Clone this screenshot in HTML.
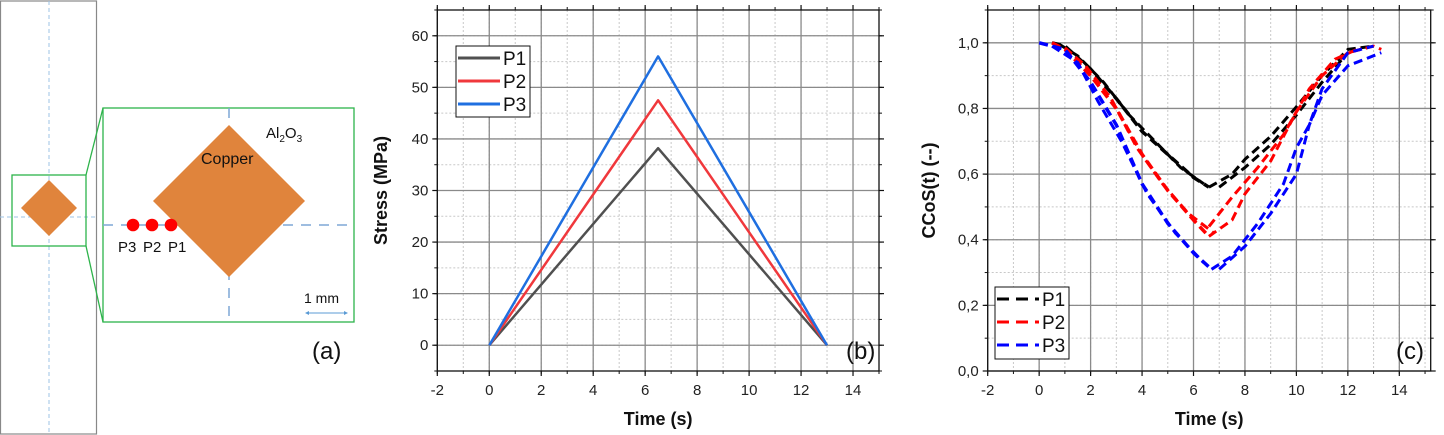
<!DOCTYPE html>
<html><head><meta charset="utf-8">
<style>
html,body{margin:0;padding:0;background:#fff;}
svg{display:block;font-family:"Liberation Sans",Arial,sans-serif;}
</style></head>
<body>
<svg id="s" width="1444" height="435" xmlns="http://www.w3.org/2000/svg">
<rect x="0.5" y="1" width="96" height="433" fill="none" stroke="#888" stroke-width="1.2"/>
<line x1="49" y1="1" x2="49" y2="434" stroke="#9dc3e6" stroke-width="1" stroke-dasharray="4,3"/>
<line x1="0" y1="217" x2="97" y2="217" stroke="#9dc3e6" stroke-width="1" stroke-dasharray="4,3"/>
<polygon points="49,180 77,208 49,236 21,208" fill="#e0843c"/>
<rect x="12" y="175" width="74" height="71" fill="none" stroke="#2db34a" stroke-width="1.3"/>
<line x1="86" y1="175" x2="103" y2="108" stroke="#2db34a" stroke-width="1.3"/>
<line x1="86" y1="246" x2="103" y2="322" stroke="#2db34a" stroke-width="1.3"/>
<rect x="103" y="108" width="251" height="214" fill="#fff" stroke="#2db34a" stroke-width="1.3"/>
<line x1="229" y1="108" x2="229" y2="322" stroke="#7fa7d6" stroke-width="1.5" stroke-dasharray="10,8"/>
<line x1="103" y1="225" x2="354" y2="225" stroke="#7fa7d6" stroke-width="1.5" stroke-dasharray="10,8"/>
<polygon points="229,125 305,201 229,277 153,201" fill="#e0843c"/>
<circle cx="133" cy="225" r="6.3" fill="#f00"/>
<circle cx="152" cy="225" r="6.3" fill="#f00"/>
<circle cx="171" cy="225" r="6.3" fill="#f00"/>
<text x="118" y="252" font-size="15" fill="#111">P3</text>
<text x="143" y="252" font-size="15" fill="#111">P2</text>
<text x="168" y="252" font-size="15" fill="#111">P1</text>
<text x="201" y="164" font-size="16" fill="#111">Copper</text>
<text x="266" y="138" font-size="15" fill="#111">Al<tspan font-size="10" dy="4">2</tspan><tspan dy="-4">O</tspan><tspan font-size="10" dy="4">3</tspan></text>
<text x="304" y="303" font-size="14" fill="#111">1 mm</text>
<line x1="307" y1="313" x2="346" y2="313" stroke="#5b9bd5" stroke-width="1"/>
<polygon points="305,313 309,311 309,315" fill="#5b9bd5"/>
<polygon points="348,313 344,311 344,315" fill="#5b9bd5"/>
<text x="312" y="359" font-size="24" fill="#111">(a)</text>
<g id="b"></g><g id="c"></g>
</svg>
<script>
var NS="http://www.w3.org/2000/svg";
function el(p,t,a,txt){var e=document.createElementNS(NS,t);for(var k in a)e.setAttribute(k,a[k]);if(txt!==undefined)e.textContent=txt;p.appendChild(e);return e;}
function panel(g,o){
 var X=function(v){return o.x0+(v-o.xmin)*(o.x1-o.x0)/(o.xmax-o.xmin);};
 var Y=function(v){return o.y1-(v-o.ymin)*(o.y1-o.y0)/(o.ymax-o.ymin);};
 for(var v=o.xmin;v<=o.xmax+1e-9;v+=o.xminor){var px=X(v);el(g,'line',{x1:px,y1:o.y0,x2:px,y2:o.y1,stroke:'#c8c8c8','stroke-width':1,'stroke-dasharray':'2,2'});}
 for(var v=o.ymin;v<=o.ymax+1e-9;v+=o.yminor){var py=Y(v);el(g,'line',{x1:o.x0,y1:py,x2:o.x1,y2:py,stroke:'#c8c8c8','stroke-width':1,'stroke-dasharray':'2,2'});}
 o.xt.forEach(function(v){var px=X(v);el(g,'line',{x1:px,y1:o.y0,x2:px,y2:o.y1,stroke:'#8a8a8a','stroke-width':1.3});
  el(g,'line',{x1:px,y1:o.y1,x2:px,y2:o.y1+5,stroke:'#111','stroke-width':1.2});el(g,'line',{x1:px,y1:o.y0,x2:px,y2:o.y0-5,stroke:'#111','stroke-width':1.2});
  el(g,'text',{x:px,y:o.y1+24,'font-size':15,'text-anchor':'middle',fill:'#222'},String(v));});
 for(var v=o.xmin;v<=o.xmax+1e-9;v+=o.xminor){var px=X(v);el(g,'line',{x1:px,y1:o.y1,x2:px,y2:o.y1+3,stroke:'#111'});el(g,'line',{x1:px,y1:o.y0,x2:px,y2:o.y0-3,stroke:'#111'});}
 o.yt.forEach(function(v){var py=Y(v);el(g,'line',{x1:o.x0,y1:py,x2:o.x1,y2:py,stroke:'#8a8a8a','stroke-width':1.3});
  el(g,'line',{x1:o.x0-5,y1:py,x2:o.x0,y2:py,stroke:'#111','stroke-width':1.2});el(g,'line',{x1:o.x1,y1:py,x2:o.x1+5,y2:py,stroke:'#111','stroke-width':1.2});
  el(g,'text',{x:o.x0-9,y:py+5,'font-size':15,'text-anchor':'end',fill:'#222'},o.yf(v));});
 for(var v=o.ymin;v<=o.ymax+1e-9;v+=o.yminor){var py=Y(v);el(g,'line',{x1:o.x0-3,y1:py,x2:o.x0,y2:py,stroke:'#111'});el(g,'line',{x1:o.x1,y1:py,x2:o.x1+3,y2:py,stroke:'#111'});}
 el(g,'rect',{x:o.x0,y:o.y0,width:o.x1-o.x0,height:o.y1-o.y0,fill:'none',stroke:'#111','stroke-width':1.3});
 o.series.forEach(function(s){var pts=s.p.map(function(q){return X(q[0]).toFixed(1)+','+Y(q[1]).toFixed(1);}).join(' ');
  var a={points:pts,fill:'none',stroke:s.c,'stroke-width':s.w||2.5,'stroke-linejoin':'round'};if(s.d)a['stroke-dasharray']=s.d;el(g,'polyline',a);});
 var L=o.leg;el(g,'rect',{x:L.x,y:L.y,width:L.w,height:L.h,fill:'#fff',stroke:'#111','stroke-width':1});
 L.items.forEach(function(it,i){var yy=L.y+12+i*23;var a={x1:L.x+2,y1:yy,x2:L.x+44,y2:yy,stroke:it.c,'stroke-width':3};if(it.d)a['stroke-dasharray']=it.d;el(g,'line',a);
  el(g,'text',{x:L.x+47,y:yy+7,'font-size':19,fill:'#111'},it.t);});
 el(g,'text',{x:o.tag[0],y:o.tag[1],'font-size':24,fill:'#111'},o.tagt);
 el(g,'text',{x:(o.x0+o.x1)/2,y:425,'font-size':18,'font-weight':'bold','text-anchor':'middle',fill:'#111'},'Time (s)');
 el(g,'text',{x:0,y:0,'font-size':18,'font-weight':'bold','text-anchor':'middle',fill:'#111',transform:'translate('+o.ylx+','+((o.y0+o.y1)/2)+') rotate(-90)'},o.ylab);
}
var b=document.getElementById('b'),c=document.getElementById('c');
panel(b,{x0:437.3,x1:879,y0:10,y1:371,xmin:-2,xmax:15,ymin:-5,ymax:65,xminor:1,yminor:5,
 xt:[-2,0,2,4,6,8,10,12,14],yt:[0,10,20,30,40,50,60],yf:function(v){return String(v);},
 series:[{c:'#505050',p:[[0,0],[6.5,38.2],[13,0]]},{c:'#f0383c',p:[[0,0],[6.5,47.5],[13,0]]},{c:'#1f6fe0',p:[[0,0],[6.5,56],[13,0]]}],
 leg:{x:456,y:46,w:74,h:71,items:[{c:'#505050',t:'P1'},{c:'#f0383c',t:'P2'},{c:'#1f6fe0',t:'P3'}]},
 tag:[846,359],tagt:'(b)',ylx:387,ylab:'Stress (MPa)'});
var D='9,5';
panel(c,{x0:987.7,x1:1430.7,y0:10,y1:371,xmin:-2,xmax:15.22,ymin:0,ymax:1.1,xminor:1,yminor:0.1,
 xt:[-2,0,2,4,6,8,10,12,14],yt:[0,0.2,0.4,0.6,0.8,1.0],yf:function(v){return v.toFixed(1).replace('.',',');},
 series:[
 {c:'#000',d:D,w:3.5,p:[[0.5,1],[1,0.99],[2,0.92],[3,0.83],[4,0.73],[5,0.66],[6,0.59],[6.6,0.56]]},
 {c:'#000',d:D,w:3,p:[[0.8,0.995],[1.5,0.96],[2.5,0.88],[3.5,0.78],[4.5,0.7],[5.5,0.62],[6.4,0.57]]},
 {c:'#000',d:D,w:3,p:[[6.6,0.56],[7.5,0.6],[8,0.645],[9,0.715],[10,0.805],[11,0.9],[12,0.98],[13,0.99]]},
 {c:'#000',d:D,w:3,p:[[7,0.56],[8,0.62],[9,0.69],[10,0.78],[11,0.88],[12,0.97]]},
 {c:'#f00',d:D,w:3.5,p:[[0.5,1],[1,0.98],[2,0.9],[3,0.8],[4,0.66],[5,0.55],[6,0.46],[6.6,0.41]]},
 {c:'#f00',d:D,w:3,p:[[1,0.985],[1.8,0.93],[2.8,0.83],[3.8,0.68],[4.8,0.57],[5.8,0.48],[6.8,0.42]]},
 {c:'#f00',d:D,w:3,p:[[6.6,0.41],[7.5,0.46],[8,0.54],[9,0.64],[10,0.79],[11,0.9],[12,0.97],[13,0.99],[13.3,0.98]]},
 {c:'#f00',d:D,w:3,p:[[6.6,0.44],[7.5,0.53],[8.5,0.62],[9.5,0.72],[10.5,0.86],[11.5,0.95],[12.5,0.985]]},
 {c:'#00f',d:D,w:3.5,p:[[0,1],[1,0.98],[2,0.88],[3,0.75],[4,0.57],[5,0.45],[6,0.36],[6.7,0.31]]},
 {c:'#00f',d:D,w:3,p:[[0.5,0.99],[1.5,0.94],[2.3,0.82],[3.2,0.7],[4.2,0.54],[5.3,0.42],[6.4,0.33]]},
 {c:'#00f',d:D,w:3,p:[[6.7,0.31],[7.5,0.35],[8.5,0.45],[9.5,0.57],[10,0.68],[10.5,0.75],[11,0.86],[12,0.97],[13,0.99]]},
 {c:'#00f',d:D,w:3,p:[[7,0.31],[8,0.38],[9,0.48],[10,0.6],[10.5,0.75],[11,0.84],[12,0.93],[13.3,0.97]]}],
 leg:{x:995,y:287,w:74,h:72,items:[{c:'#000',t:'P1',d:'12,7'},{c:'#f00',t:'P2',d:'12,7'},{c:'#00f',t:'P3',d:'12,7'}]},
 tag:[1396,359],tagt:'(c)',ylx:935,ylab:'CCoS(t) (--)'});
</script>
</body></html>
